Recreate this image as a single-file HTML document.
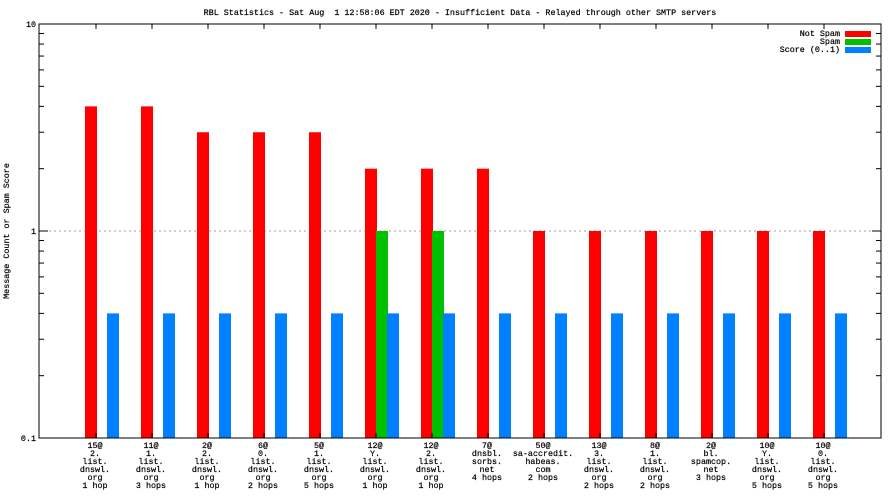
<!DOCTYPE html>
<html><head><meta charset="utf-8"><style>
html,body{margin:0;padding:0;background:#fff;}
svg{display:block;font-family:"Liberation Mono",monospace;font-size:8.4px;white-space:pre;}
text{stroke:#000;stroke-width:0.2;}
</style></head><body>
<svg id="chart" width="896" height="504" viewBox="0 0 896 504" xmlns="http://www.w3.org/2000/svg">
<rect x="0" y="0" width="896" height="504" fill="#fff"/>
<text x="460" y="15" text-anchor="middle" xml:space="preserve">RBL Statistics - Sat Aug  1 12:58:06 EDT 2020 - Insufficient Data - Relayed through other SMTP servers</text>
<text transform="translate(9,231) rotate(-90)" text-anchor="middle">Message Count or Spam Score</text>
<g id="grid"></g>
<g id="bars"></g>
<g id="axes"></g>
<g id="labels"></g>
<g>
<text x="840" y="36" text-anchor="end">Not Spam</text>
<rect x="845" y="31" width="26" height="6" fill="#ff0000"/>
<text x="840" y="44" text-anchor="end">Spam</text>
<rect x="845" y="39" width="26" height="6" fill="#00c000"/>
<text x="840" y="52" text-anchor="end">Score (0..1)</text>
<rect x="845" y="47" width="26" height="6" fill="#0080ff"/>
</g>
</svg>
<script>
const categories=[
["15@","2.","list.","dnswl.","org","1 hop"],
["11@","1.","list.","dnswl.","org","3 hops"],
["2@","2.","list.","dnswl.","org","1 hop"],
["6@","0.","list.","dnswl.","org","2 hops"],
["5@","1.","list.","dnswl.","org","5 hops"],
["12@","Y.","list.","dnswl.","org","1 hop"],
["12@","2.","list.","dnswl.","org","1 hop"],
["7@","dnsbl.","sorbs.","net","4 hops"],
["50@","sa-accredit.","habeas.","com","2 hops"],
["13@","3.","list.","dnswl.","org","2 hops"],
["8@","1.","list.","dnswl.","org","2 hops"],
["2@","bl.","spamcop.","net","3 hops"],
["10@","Y.","list.","dnswl.","org","5 hops"],
["10@","0.","list.","dnswl.","org","5 hops"]];
const notSpam=[4,4,3,3,3,2,2,2,1,1,1,1,1,1];
const spam=[0,0,0,0,0,1,1,0,0,0,0,0,0,0];
const score=[0.4,0.4,0.4,0.4,0.4,0.4,0.4,0.4,0.4,0.4,0.4,0.4,0.4,0.4];
const yTicks=[0.1,1,10];
const yTickLabels=["0.1","1","10"];

const NS="http://www.w3.org/2000/svg";
const L=39,R=881,T=24,B=438;
const yMin=0.1,yMax=10;
function y(v){return B-(Math.log10(v)-Math.log10(yMin))/(Math.log10(yMax)-Math.log10(yMin))*(B-T);}
function xc(i){return 96+56*i;}
function mk(tag,attrs,parent){const e=document.createElementNS(NS,tag);for(const k in attrs)e.setAttribute(k,attrs[k]);parent.appendChild(e);return e;}
const bars=document.getElementById('bars'),axes=document.getElementById('axes'),grid=document.getElementById('grid'),labels=document.getElementById('labels');

const g1=mk('line',{x1:L,x2:R,y1:y(1),y2:y(1),stroke:'#a0a0a0','stroke-dasharray':'2,3'},grid);



function bar(v,x0,w,col,name){
  if(!(v>yMin))return;
  const r=mk('rect',{x:x0,y:y(v),width:w,height:B-y(v),fill:col},bars);
  
  
}
categories.forEach((c,i)=>{
  const s=xc(i)-11;
  bar(notSpam[i],s,12,'#ff0000','bar-not-spam-'+i);
  bar(spam[i],s+11,12,'#00c000','bar-spam-'+i);
  bar(score[i],s+22,12,'#0080ff','bar-score-'+i);
  const t=mk('text',{x:xc(i)-1,y:B+10,'text-anchor':'middle'},labels);
  
  
  c.forEach((ln,j)=>{const ts=mk('tspan',{x:xc(i)-1,dy:j?8:0},t);ts.textContent=ln;});
  mk('line',{x1:xc(i),x2:xc(i),y1:B,y2:B-5,stroke:'#000'},axes);
  mk('line',{x1:xc(i),x2:xc(i),y1:T,y2:T+5,stroke:'#000'},axes);
});
const fr=mk('rect',{x:L,y:T,width:R-L,height:B-T,fill:'none',stroke:'#000'},axes);


yTicks.forEach((v,i)=>{
  mk('line',{x1:L,x2:L+9,y1:y(v),y2:y(v),stroke:'#000'},axes);
  mk('line',{x1:R,x2:R-9,y1:y(v),y2:y(v),stroke:'#000'},axes);
  const t=mk('text',{x:L-3,y:y(v)+3,'text-anchor':'end'},labels);
  
  
  t.textContent=yTickLabels[i];
  if(i<yTicks.length-1){for(let k=2;k<10;k++){const yy=y(v*k);
    mk('line',{x1:L,x2:L+5,y1:yy,y2:yy,stroke:'#000'},axes);
    mk('line',{x1:R,x2:R-5,y1:yy,y2:yy,stroke:'#000'},axes);}}
});
</script>
</body></html>
